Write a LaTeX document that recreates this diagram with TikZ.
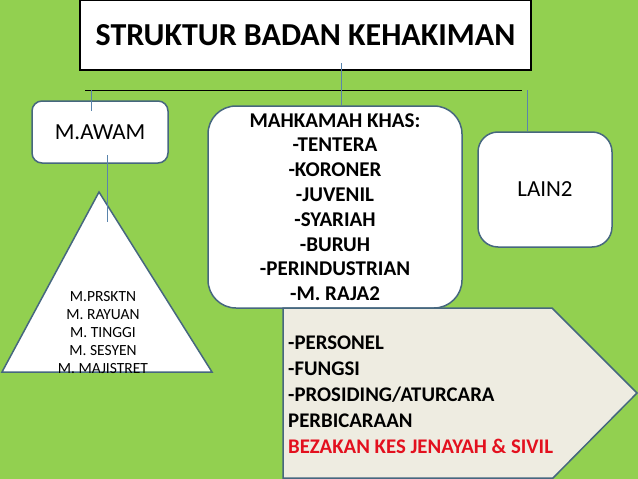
\documentclass[tikz,border=0pt]{standalone}
\usepackage{fontspec}
\setmainfont{Carlito}
\usepackage{tikz}
\usetikzlibrary{calc, positioning}
\definecolor{grn}{HTML}{92D050}
\definecolor{edge}{HTML}{46677F}
\definecolor{wire}{HTML}{5A84AC}
\definecolor{tan}{HTML}{EEECE1}
\definecolor{merah}{HTML}{E3101E}
\tikzstyle{box} = [draw=edge, line width=1.5pt, fill=white]
\tikzstyle{link} = [draw=wire, line width=0.9pt]

\begin{document}
\begin{tikzpicture}[x=1pt, y=-1pt]
            \fill [grn] (0,0) rectangle (638,479);
            \useasboundingbox (0,0) rectangle (638,479);

            \node [draw=black, line width=2pt, fill=white, minimum width=451pt, minimum height=70pt,
                   font=\bfseries\fontsize{32}{36}\selectfont] (title) at (305.5,35) {STRUKTUR BADAN KEHAKIMAN};

            \node [box, rounded corners=10pt, minimum width=136pt, minimum height=62pt,
                   font=\fontsize{23}{27}\selectfont] (awam) at (100,132) {M.AWAM};
            \node [box, rounded corners=28pt, minimum width=254pt, minimum height=202pt, align=center,
                   font=\bfseries\fontsize{21}{24.8}\selectfont] (khas) at (335,207)
                  {MAHKAMAH KHAS:\\-TENTERA\\-KORONER\\-JUVENIL\\-SYARIAH\\-BURUH\\-PERINDUSTRIAN\\-M. RAJA2};
            \node [box, rounded corners=20pt, minimum width=134pt, minimum height=115pt,
                   font=\fontsize{23}{27}\selectfont] (lain) at (545,189.5) {LAIN2};

            % piramid mahkamah awam
            \filldraw [box] (99,192) coordinate (puncak) -- (212,372) -- (2,372) -- cycle;
            \node [align=center, font=\fontsize{15.5}{18}\selectfont] (hierarki) at (103,333)
                  {M.PRSKTN\\M. RAYUAN\\M. TINGGI\\M. SESYEN\\M. MAJISTRET};

            % anak panah
            \filldraw [box, fill=tan] (283,308) -- (552,308) -- (637,393) -- (553,478) -- (283,478) -- cycle;
            \node [anchor=west, inner sep=0pt, align=left, font=\bfseries\fontsize{20.8}{26}\selectfont] (bidang) at (288,395)
                  {-PERSONEL\\-FUNGSI\\-PROSIDING/ATURCARA\\PERBICARAAN\\\textcolor{merah}{BEZAKAN KES JENAYAH \& SIVIL}};

            % garisan penyambung
            \coordinate (busL) at (85,90);
            \coordinate (busR) at (522,90);
            \draw [line width=0.9pt] (busL) -- (busR);
            \coordinate (turun) at (341,63);
            \draw [link] (turun) -- (turun |- khas.north);
            \coordinate (kiri) at (91,90);
            \draw [link] (kiri) -- ++(0,21);
            \coordinate (kanan) at (527,90);
            \draw [link] (kanan) -- (kanan |- lain.north);
            \coordinate (awamB) at (107,155);
            \draw [link] (awamB) -- (107,222);
\end{tikzpicture}
\end{document}
